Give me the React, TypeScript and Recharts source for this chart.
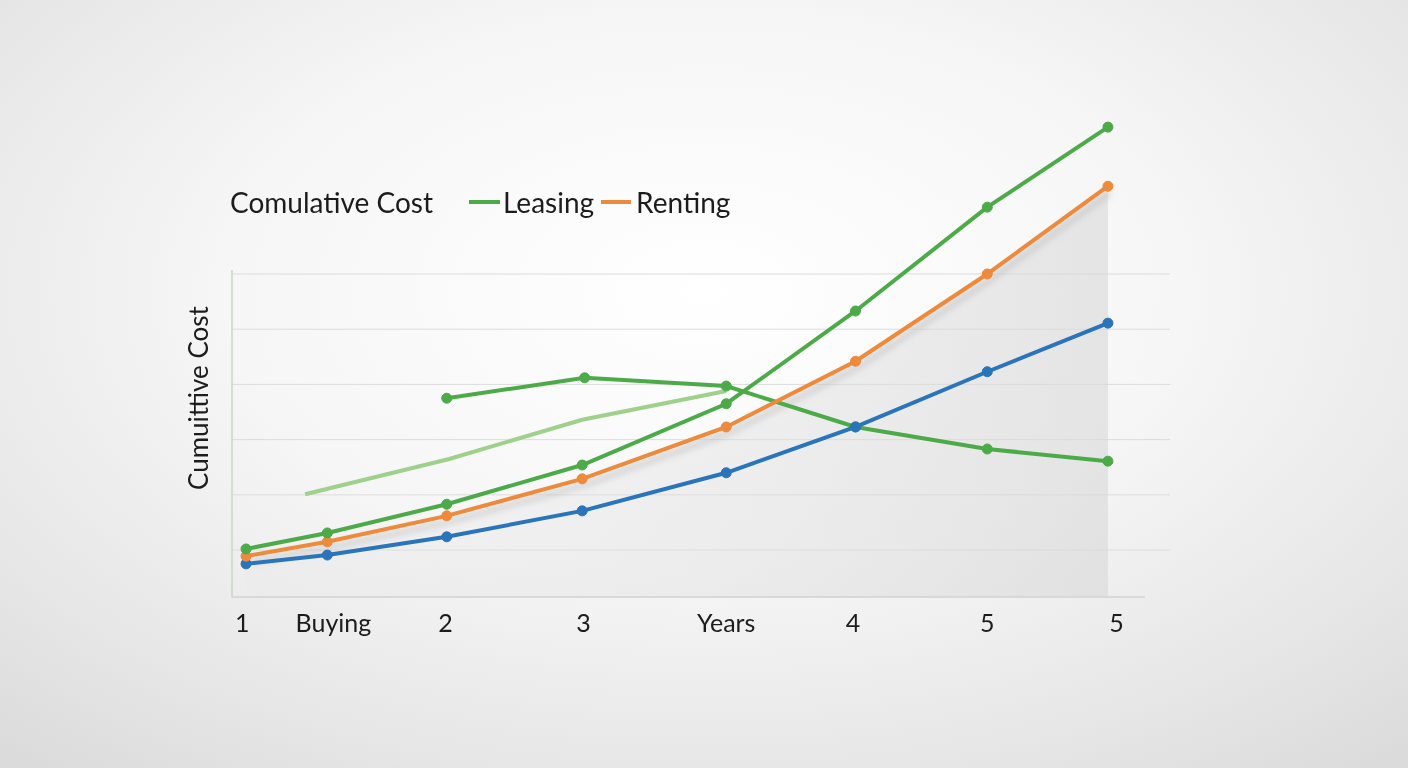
import React from "react";
import {
  ComposedChart,
  Line,
  Area,
  XAxis,
  YAxis,
  CartesianGrid,
  ReferenceLine,
} from "recharts";

// ─── Data ─────────────────────────────────────────────────────────────────────

const xPoints = [0, 0.66, 1.63, 2.73, 3.9, 4.95, 6.02, 7];
const buying = [0.75, 0.91, 1.24, 1.71, 2.4, 3.23, 4.23, 5.11];
const renting = [0.89, 1.15, 1.62, 2.29, 3.23, 4.42, 6.0, 7.59];
const leasing = [1.02, 1.31, 1.83, 2.54, 3.65, 5.33, 7.21, 8.66];

// second green series starts at the "2" point
const leasingAltX = [1.63, 2.75, 3.9, 4.95, 6.02, 7];
const leasingAlt = [3.75, 4.12, 3.97, 3.23, 2.83, 2.61];

// pale green trend line, no markers
const trendX = [0.48, 1.65, 2.73, 3.9];
const trend = [2.01, 2.65, 3.36, 3.88];

const tickX = [-0.03, 0.71, 1.62, 2.74, 3.9, 4.93, 6.02, 7.07];
const tickLabels = ["1", "Buying", "2", "3", "Years", "4", "5", "5"];
const yTicks = [1, 2, 3, 4, 5, 6];

const X_DOMAIN: [number, number] = [-0.114, 7.504];
const Y_DOMAIN: [number, number] = [0.15, 8.97];

// ─── Colors ───────────────────────────────────────────────────────────────────

const GREEN = "#4caa48";
const ORANGE = "#ee8a3c";
const BLUE = "#2a74bb";
const PALE_GREEN = "#9fd08c";
const FONT = "Lato, 'Open Sans', sans-serif";

const zip = (xs: number[], ys: number[]) =>
  xs.map((x, i) => ({ x, y: ys[i] }));

const buyingData = zip(xPoints, buying);
const rentingData = zip(xPoints, renting);
const leasingData = zip(xPoints, leasing);
const leasingAltData = zip(leasingAltX, leasingAlt);
const trendData = zip(trendX, trend);

function XTick(props: any) {
  const { x, y, index } = props;
  return (
    <text
      x={x}
      y={y}
      dy={35}
      textAnchor="middle"
      fill="#1c1c1c"
      style={{ fontFamily: FONT, fontSize: 25 }}
    >
      {tickLabels[index]}
    </text>
  );
}

const NoTick = () => <g />;

export default function App() {
  const dot = (c: string) => ({ r: 5, fill: c, stroke: c, strokeWidth: 1 });
  return (
    <div
      style={{
        position: "fixed",
        left: 0,
        top: 0,
        width: 1408,
        height: 768,
        overflow: "hidden",
        background:
          "radial-gradient(ellipse 75% 80% at 50% 38%, #ffffff 0%, #f6f6f6 45%, #e6e6e6 80%, #dbdbdb 100%)",
        fontFamily: FONT,
      }}
    >
      {/* title + legend row */}
      <div
        style={{
          position: "absolute",
          left: 230,
          top: 185,
          display: "flex",
          alignItems: "center",
          fontSize: 28,
          color: "#1c1c1c",
          whiteSpace: "nowrap",
        }}
      >
        <span>Comulative Cost</span>
        <span
          style={{
            display: "inline-block",
            width: 31,
            height: 4,
            background: GREEN,
            marginLeft: 36,
            marginRight: 3,
          }}
        />
        <span>Leasing</span>
        <span
          style={{
            display: "inline-block",
            width: 30,
            height: 4,
            background: ORANGE,
            marginLeft: 7,
            marginRight: 5,
          }}
        />
        <span>Renting</span>
      </div>

      {/* y axis title */}
      <div
        style={{
          position: "absolute",
          left: 198,
          top: 398,
          transform: "translate(-50%, -50%) rotate(-90deg)",
          fontSize: 26,
          color: "#1c1c1c",
          whiteSpace: "nowrap",
        }}
      >
        Cumuittive Cost
      </div>

      <div style={{ position: "absolute", left: 0, top: 0 }}>
        <ComposedChart
          width={1408}
          height={768}
          margin={{ top: 110, right: 238, bottom: 131, left: 232 }}
        >
          <defs>
            <linearGradient id="shade" x1="0" y1="0" x2="1" y2="0">
              <stop offset="0%" stopColor="#e8e8e8" stopOpacity={0.25} />
              <stop offset="100%" stopColor="#d8d8d8" stopOpacity={0.6} />
            </linearGradient>
            <filter id="soft" x="-5%" y="-5%" width="110%" height="120%">
              <feGaussianBlur stdDeviation="3" />
            </filter>
          </defs>
          <CartesianGrid
            vertical={false}
            horizontalValues={yTicks}
            stroke="#dcdcdc"
            strokeWidth={1}
          />
          <XAxis
            type="number"
            dataKey="x"
            domain={X_DOMAIN}
            ticks={tickX}
            interval={0}
            allowDataOverflow
            axisLine={false}
            tickLine={false}
            tickSize={0}
            tickMargin={0}
            height={40}
            tick={<XTick />}
          />
          <YAxis
            type="number"
            dataKey="y"
            domain={Y_DOMAIN}
            ticks={yTicks}
            interval={0}
            allowDataOverflow
            width={0}
            axisLine={false}
            tickLine={false}
            tick={<NoTick />}
          />
          <Area
            data={rentingData}
            dataKey="y"
            type="linear"
            stroke="none"
            fill="url(#shade)"
            fillOpacity={1}
            baseValue={Y_DOMAIN[0]}
            isAnimationActive={false}
          />
          <ReferenceLine
            segment={[
              { x: X_DOMAIN[0], y: Y_DOMAIN[0] },
              { x: X_DOMAIN[0], y: 6.07 },
            ]}
            stroke="#c9d6c6"
            strokeWidth={1.5}
          />
          <ReferenceLine
            segment={[
              { x: X_DOMAIN[0], y: Y_DOMAIN[0] },
              { x: 7.3, y: Y_DOMAIN[0] },
            ]}
            stroke="#cfd3cf"
            strokeWidth={1.5}
          />
          {/* soft shadow beneath the renting line */}
          <Line
            data={rentingData}
            dataKey="y"
            type="linear"
            stroke="#9a9a9a"
            strokeOpacity={0.35}
            strokeWidth={5}
            dot={false}
            filter="url(#soft)"
            style={{ transform: "translate(3px, 6px)" }}
            isAnimationActive={false}
          />
          <Line
            data={trendData}
            dataKey="y"
            type="linear"
            stroke={PALE_GREEN}
            strokeWidth={4}
            dot={false}
            isAnimationActive={false}
          />
          <Line
            data={leasingAltData}
            dataKey="y"
            type="linear"
            stroke={GREEN}
            strokeWidth={4}
            dot={dot(GREEN)}
            isAnimationActive={false}
          />
          <Line
            data={buyingData}
            dataKey="y"
            name="Buying"
            type="linear"
            stroke={BLUE}
            strokeWidth={4}
            dot={dot(BLUE)}
            isAnimationActive={false}
          />
          <Line
            data={rentingData}
            dataKey="y"
            name="Renting"
            type="linear"
            stroke={ORANGE}
            strokeWidth={4}
            dot={dot(ORANGE)}
            isAnimationActive={false}
          />
          <Line
            data={leasingData}
            dataKey="y"
            name="Leasing"
            type="linear"
            stroke={GREEN}
            strokeWidth={4}
            dot={dot(GREEN)}
            isAnimationActive={false}
          />
        </ComposedChart>
      </div>
    </div>
  );
}
